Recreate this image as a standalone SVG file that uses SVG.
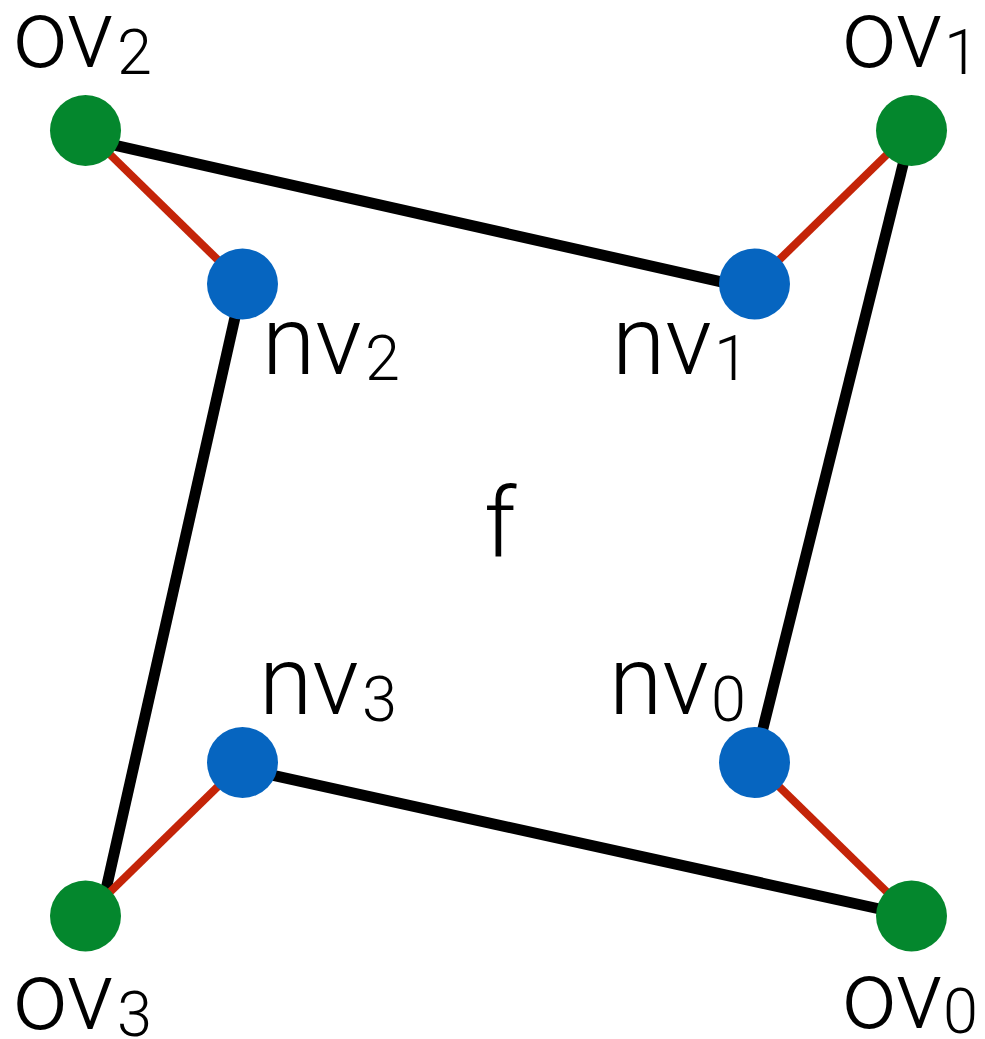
<svg xmlns="http://www.w3.org/2000/svg" width="985" height="1039" viewBox="0 0 985 1039">
<style>
.bg{fill:#ffffff}
.edge{stroke:#000000;stroke-width:11;fill:none}
.link{stroke:#C42408;stroke-width:8;fill:none}
.ov{fill:#04872D}
.nv{fill:#0665C0}
.lbl{font-family:Roboto,"Liberation Sans",Arial,sans-serif;font-weight:300;font-size:97px;fill:#000000}
.sub{font-size:63px}
</style>
<rect class="bg" x="0" y="0" width="985" height="1039"/>
<g id="connectors">
<line class="edge" x1="85.5" y1="138.7" x2="754.5" y2="289.3"/>
<line class="edge" x1="911.5" y1="130.5" x2="754.5" y2="762.5"/>
<line class="edge" x1="242.5" y1="284" x2="100" y2="916"/>
<line class="edge" x1="242.5" y1="768.6" x2="911.5" y2="916"/>
<line class="link" x1="85.5" y1="130.5" x2="242.5" y2="284"/>
<line class="link" x1="911.5" y1="130.5" x2="754.5" y2="284"/>
<line class="link" x1="85.5" y1="916" x2="242.5" y2="762.5"/>
<line class="link" x1="911.5" y1="916" x2="754.5" y2="762.5"/>
</g>
<g id="ov2"><circle class="ov" cx="85.5" cy="130.5" r="35.5"/><text class="lbl" x="13" y="67">ov<tspan class="sub" x="117" y="74">2</tspan></text></g>
<g id="ov1"><circle class="ov" cx="911.5" cy="130.5" r="35.5"/><text class="lbl" x="842" y="67">ov<tspan class="sub" x="944" y="74">1</tspan></text></g>
<g id="ov3"><circle class="ov" cx="85.5" cy="916" r="35.5"/><text class="lbl" x="13" y="1029">ov<tspan class="sub" x="117" y="1036">3</tspan></text></g>
<g id="ov0"><circle class="ov" cx="911.5" cy="916" r="35.5"/><text class="lbl" x="842" y="1028">ov<tspan class="sub" x="943" y="1033">0</tspan></text></g>
<g id="nv2"><circle class="nv" cx="242.5" cy="284" r="35.5"/><text class="lbl" x="262" y="374">nv<tspan class="sub" x="365" y="380">2</tspan></text></g>
<g id="nv1"><circle class="nv" cx="754.5" cy="284" r="35.5"/><text class="lbl" x="612" y="374">nv<tspan class="sub" x="714" y="380">1</tspan></text></g>
<g id="nv3"><circle class="nv" cx="242.5" cy="762.5" r="35.5"/><text class="lbl" x="259" y="714">nv<tspan class="sub" x="362" y="721">3</tspan></text></g>
<g id="nv0"><circle class="nv" cx="754.5" cy="762.5" r="35.5"/><text class="lbl" x="609" y="714">nv<tspan class="sub" x="711" y="721">0</tspan></text></g>
<g id="face"><text class="lbl" x="484" y="556">f</text></g>
</svg>
